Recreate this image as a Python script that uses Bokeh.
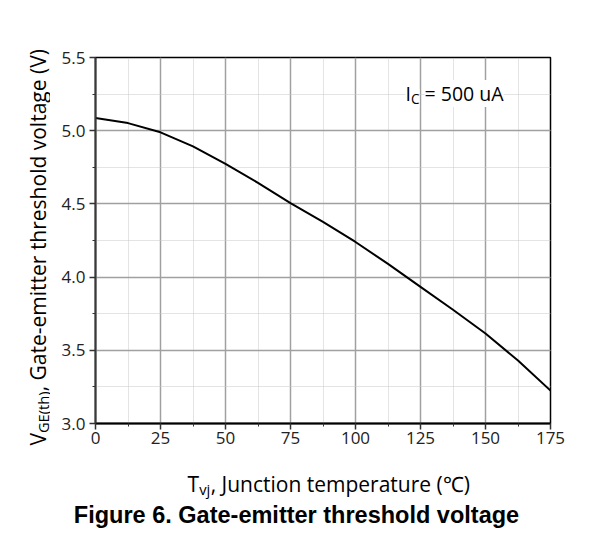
from math import pi
from bokeh.plotting import figure
from bokeh.layouts import row, column
from bokeh.models import Label, Range1d, SingleIntervalTicker, PrintfTickFormatter
from bokeh.embed import file_html
from bokeh.resources import INLINE

# ---- data ----
temps = [0, 12.5, 25, 37.5, 50, 62.5, 75, 87.5, 100, 112.5, 125, 137.5, 150, 162.5, 175]
vth = [5.087, 5.052, 4.989, 4.893, 4.774, 4.644, 4.505, 4.377, 4.24, 4.09, 3.933, 3.777, 3.615, 3.43, 3.225]
x_ticks_interval = 25
y_ticks_interval = 0.5
x_title_main = "T"
x_title_sub = "vj"
x_title_rest = ", Junction temperature (\u2103)"
y_title_main = "V"
y_title_sub = "GE(th)"
y_title_rest = ", Gate-emitter threshold voltage (V)"
note_main = "I"
note_sub = "C"
note_rest = "= 500 uA"
caption = "Figure 6. Gate-emitter threshold voltage"

FONT = "Open Sans"
TOTAL_W, TOTAL_H = 570, 529
YLAB_W = 50
MAIN_W = TOTAL_W - YLAB_W
MAIN_H = 457
BOT_H = TOTAL_H - MAIN_H
BL, BR, BT, BB = 45, 20, 57, 34
XMIN, XMAX, YMIN, YMAX = 0, 175, 3.0, 5.5
FW = MAIN_W - BL - BR
FH = MAIN_H - BT - BB


def text_canvas(w, h):
    f = figure(width=w, height=h, x_range=Range1d(0, w), y_range=Range1d(0, h),
               x_axis_type=None, y_axis_type=None, output_backend="svg",
               toolbar_location=None, min_border=0, frame_align=False)
    f.outline_line_color = None
    f.background_fill_color = "white"
    f.border_fill_color = "white"
    return f


def put(f, h, px, py, text, size, angle=0.0, font=FONT, style="normal", align="left"):
    # px, py: pixel position in the canvas f, measured from its top-left corner
    f.add_layout(Label(x=px, y=h - py, text=text, angle=angle,
                       text_font=font, text_font_size=f"{size}px",
                       text_font_style=style, text_color="black",
                       text_align=align, text_baseline="alphabetic"))


# ---- main chart ----
p = figure(width=MAIN_W, height=MAIN_H, x_range=Range1d(XMIN, XMAX), y_range=Range1d(YMIN, YMAX),
           output_backend="svg", toolbar_location=None, frame_align=False,
           min_border_left=BL, min_border_right=BR, min_border_top=BT, min_border_bottom=BB)
p.background_fill_color = "white"
p.border_fill_color = "white"
p.outline_line_color = "black"
p.outline_line_width = 1.5

p.xaxis.ticker = SingleIntervalTicker(interval=x_ticks_interval, num_minor_ticks=2)
p.yaxis.ticker = SingleIntervalTicker(interval=y_ticks_interval, num_minor_ticks=2)
p.yaxis.formatter = PrintfTickFormatter(format="%.1f")

for ax in (p.xaxis, p.yaxis):
    ax.major_label_text_font = FONT
    ax.major_label_text_font_size = "17px"
    ax.major_label_text_color = "#222222"
    ax.major_tick_in = 0
    ax.major_tick_out = 6
    ax.minor_tick_in = 0
    ax.minor_tick_out = 3
    ax.major_tick_line_color = "#333333"
    ax.minor_tick_line_color = "#333333"
    ax.major_tick_line_width = 1.5
    ax.minor_tick_line_width = 1
    ax.axis_line_width = 2
p.xaxis.axis_line_color = "black"
p.yaxis.axis_line_color = "#3a3a3a"
p.xaxis.major_label_standoff = 2
p.yaxis.major_label_standoff = 4

for g in (p.xgrid, p.ygrid):
    g.grid_line_color = "#a0a0a0"
    g.grid_line_width = 1.5
    g.minor_grid_line_color = "#c8c8c8"
    g.minor_grid_line_width = 1
    g.minor_grid_line_dash = "1 1"

p.line(temps, vth, line_color="black", line_width=2)


def fx(px):
    return XMIN + (px - BL) * (XMAX - XMIN) / FW


def fy(py):
    return YMAX - (py - BT) * (YMAX - YMIN) / FH


def note(px, py, text, size):
    p.add_layout(Label(x=fx(px), y=fy(py), text=text, text_font=FONT,
                       text_font_size=f"{size}px", text_color="black",
                       text_baseline="alphabetic", background_fill_color="white"))


ns = 19.5
nx, nb = 355, 93
note(nx, nb, note_main, ns)
note(nx + 0.276 * ns, nb + 5, note_sub, ns * 0.7)
note(nx + 0.276 * ns + 0.633 * ns * 0.7 + 0.26 * ns, nb, note_rest, ns)

# ---- y axis title (rotated) ----
yl = text_canvas(YLAB_W, MAIN_H)
fy_s = 21
ys, yb = 445, 37
put(yl, MAIN_H, yb, ys, y_title_main, fy_s, angle=pi / 2)
put(yl, MAIN_H, yb + 5, ys - 0.592 * fy_s, y_title_sub, fy_s * 0.7, angle=pi / 2)
put(yl, MAIN_H, yb, ys - 0.592 * fy_s - 2.84 * fy_s * 0.7, y_title_rest, fy_s, angle=pi / 2)

# ---- x axis title and caption ----
bt = text_canvas(TOTAL_W, BOT_H)
fs = 21
xs, xb = 187, 483 - MAIN_H
put(bt, BOT_H, xs, xb, x_title_main, fs)
put(bt, BOT_H, xs + 0.556 * fs, xb + 5, x_title_sub, fs * 0.7)
put(bt, BOT_H, xs + 0.556 * fs + 0.78 * fs * 0.7, xb, x_title_rest, fs)
put(bt, BOT_H, 296, 514 - MAIN_H, caption, 23.5, font="Liberation Sans", style="bold", align="center")

layout = column(row(yl, p, spacing=0), bt, spacing=0)

open("out.html", "w").write(file_html(layout, INLINE))
